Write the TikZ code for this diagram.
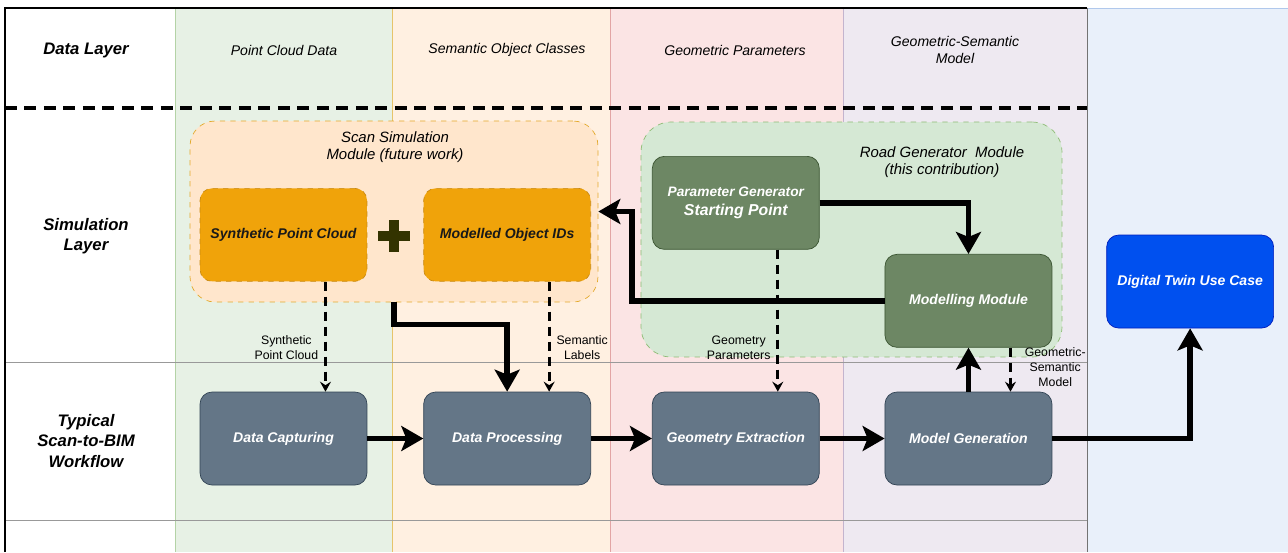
\documentclass[tikz,border=0pt]{standalone}
\usepackage{fontspec}
\setmainfont{Liberation Sans}
\usetikzlibrary{arrows.meta, positioning}

\definecolor{lanegreen}{HTML}{E7F1E5}
\definecolor{linegreen}{HTML}{B4D3A6}
\definecolor{laneorange}{HTML}{FFF0E1}
\definecolor{lineorange}{HTML}{E6C46A}
\definecolor{lanered}{HTML}{FBE4E4}
\definecolor{linered}{HTML}{E2A4A4}
\definecolor{lanepurple}{HTML}{EEE9F1}
\definecolor{linepurple}{HTML}{C3B4CE}
\definecolor{laneblue}{HTML}{E9F0FA}
\definecolor{lineblue}{HTML}{B0C8EC}
\definecolor{scanfill}{HTML}{FFE6CC}
\definecolor{scanline}{HTML}{E3A92B}
\definecolor{orangebox}{HTML}{F0A30A}
\definecolor{orangeline}{HTML}{C98A12}
\definecolor{roadfill}{HTML}{D5E8D4}
\definecolor{roadline}{HTML}{8DBB74}
\definecolor{olivebox}{HTML}{6D8764}
\definecolor{oliveline}{HTML}{3A5431}
\definecolor{slatebox}{HTML}{647687}
\definecolor{slateline}{HTML}{314354}
\definecolor{twinbox}{HTML}{0050EF}
\definecolor{twinline}{HTML}{001DBC}
\definecolor{plusdark}{HTML}{333300}

\begin{document}
\begin{tikzpicture}[
    x = 0.02cm,
    y = -0.02cm,
    node distance = 1.2cm,
    font = \fontsize{8}{9.5}\selectfont\itshape,
    ]

    \tikzstyle{layer}=[
    font = \fontsize{9.5}{11.5}\selectfont\bfseries\itshape,
    align = center,
    ]
    \tikzstyle{header}=[
    font = \fontsize{8}{9.5}\selectfont\itshape,
    align = center,
    ]
    \tikzstyle{moduletitle}=[
    font = \fontsize{8.5}{10}\selectfont\itshape,
    align = center,
    ]
    \tikzstyle{procbox}=[
    rectangle,
    rounded corners = 0.24cm,
    minimum width = 3.34cm,
    minimum height = 1.86cm,
    fill = slatebox,
    draw = slateline,
    text = white,
    font = \fontsize{8}{9.5}\selectfont\bfseries\itshape,
    align = center,
    ]
    \tikzstyle{scanbox}=[procbox, fill=orangebox, draw=orangeline, dashed, text=black!90]
    \tikzstyle{roadbox}=[procbox, fill=olivebox, draw=oliveline]
    \tikzstyle{twinnode}=[procbox, fill=twinbox, draw=twinline]
    \tikzstyle{flowarrow}=[
    line width = 0.11cm,
    -{Stealth[length=0.44cm, width=0.5cm, inset=0.1cm]},
    ]
    \tikzstyle{dataarrow}=[
    line width = 0.06cm,
    dash pattern = on 0.19cm off 0.11cm,
    -{Stealth[length=0.2cm, width=0.22cm, inset=0.07cm]},
    ]
    \tikzstyle{datalabel}=[
    font = \fontsize{7}{8.5}\selectfont\upshape,
    align = center,
    ]

    % swimlanes
    \useasboundingbox (0,0) rectangle (1288,552);
    \fill[white] (0,0) rectangle (1288,552);
    \fill[lanegreen] (175,8) rectangle (392,552);
    \fill[laneorange] (392,8) rectangle (610,552);
    \fill[lanered] (610,8) rectangle (843,552);
    \fill[lanepurple] (843,8) rectangle (1087,552);
    \fill[laneblue] (1087,8) rectangle (1288,552);
    \draw[linegreen] (175,8) -- (175,552);
    \draw[lineorange] (392,8) -- (392,552);
    \draw[linered] (610,8) -- (610,552);
    \draw[linepurple] (843,8) -- (843,552);
    \draw[lineblue] (1087,8) -- (1288,8);
    \draw[black!55] (1087,8) -- (1087,552);
    \draw[black!40] (5,362) -- (1087,362);
    \draw[black!40] (5,520) -- (1087,520);
    \draw[line width=0.03cm] (5,552) -- (5,8) -- (1087,8);
    \draw[line width=0.09cm, dash pattern=on 0.24cm off 0.15cm] (5,108) -- (1087,108);

    \node[layer] (datalayer) at (86,50) {Data Layer};
    \node[layer] (simlayer) at (86,236) {Simulation\\Layer};
    \node[layer] (workflow) at (86,441) {Typical\\Scan-to-BIM\\Workflow};

    \node[header] (hcloud) at (284,50) {Point Cloud Data};
    \node[header] (hclasses) at (507,50) {Semantic Object Classes};
    \node[header] (hparams) at (735,50) {Geometric Parameters};
    \node[header] (hmodel) at (955,50) {Geometric-Semantic\\Model};

    % modules
    \node[rounded corners=0.5cm, dashed, fill=scanfill, draw=scanline,
    minimum width=8.16cm, minimum height=3.62cm] (scanmod) at (394,211.5) {};
    \node[moduletitle] (scantitle) at (395,147) {Scan Simulation\\Module (future work)};
    \node[rounded corners=0.6cm, dashed, fill=roadfill, draw=roadline,
    minimum width=8.42cm, minimum height=4.7cm] (roadmod) at (851.5,239.5) {};
    \node[moduletitle] (roadtitle) at (942,162) {Road Generator\ \ Module\\(this contribution)};

    % boxes
    \node[procbox] (capt) at (283.5,438.5) {Data Capturing};
    \node[procbox] (proc) [right=1.12cm of capt] {Data Processing};
    \node[procbox] (geom) [right=1.22cm of proc] {Geometry Extraction};
    \node[procbox] (modgen) [right=1.3cm of geom] {Model Generation};
    \node[scanbox] (synth) [above=2.2cm of capt] {Synthetic Point Cloud};
    \node[scanbox] (modobj) [above=2.2cm of proc] {Modelled Object IDs};
    \node[roadbox] (paramgen) [above=2.84cm of geom]
    {{\fontsize{7.8}{9}\selectfont Parameter Generator}\\[1pt]{\fontsize{9}{11}\selectfont Starting Point}};
    \node[roadbox] (modmod) [above=0.88cm of modgen] {Modelling Module};
    \node[twinnode] (twin) [right=1.08cm of modgen, yshift=3.14cm] {Digital Twin Use Case};

    \draw[plusdark, line width=0.19cm] (378,236) -- (410,236) (394,220) -- (394,252);

    % thick flows
    \draw[flowarrow] (capt) -- (proc);
    \draw[flowarrow] (proc) -- (geom);
    \draw[flowarrow] (geom) -- (modgen);
    \draw[flowarrow] (modgen.north) -- (modmod.south);
    \draw[flowarrow] (modgen.east) -| (twin.south);
    \draw[flowarrow] (paramgen.east) -| (modmod.north);
    \coordinate (feedback) at (632,211.5);
    \draw[flowarrow] (modmod.west) -| (feedback) -- (scanmod.east);
    \draw[flowarrow] (scanmod.south) -- ++(0,22) -| (proc.north);

    % data flows
    \draw[dataarrow] ([xshift=0.84cm]synth.south) -- node[datalabel, left, pos=0.6] {Synthetic\\Point Cloud} ([xshift=0.84cm]capt.north);
    \draw[dataarrow] ([xshift=0.84cm]modobj.south) -- node[datalabel, right, pos=0.6] {Semantic\\Labels} ([xshift=0.84cm]proc.north);
    \draw[dataarrow] ([xshift=0.84cm]paramgen.south) -- node[datalabel, left, pos=0.69] {Geometry\\Parameters} ([xshift=0.84cm]geom.north);
    \draw[dataarrow] ([xshift=0.84cm]modmod.south) -- node[datalabel, right, pos=0.45, xshift=0.14cm] {Geometric-\\Semantic\\Model} ([xshift=0.84cm]modgen.north);
  \end{tikzpicture}
\end{document}
